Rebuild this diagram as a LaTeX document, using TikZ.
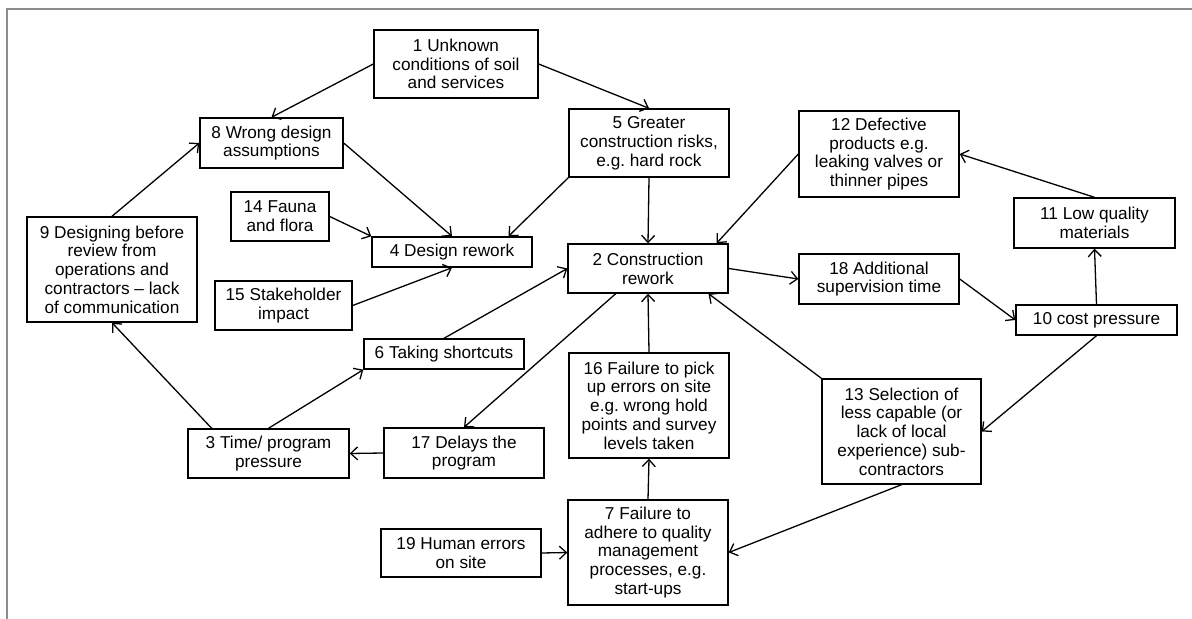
\documentclass[tikz,border=0pt]{standalone}
\usepackage{fontspec}
\newfontfamily\boxfont{Liberation Sans}
\usetikzlibrary{calc}
\usetikzlibrary{arrows.meta}
\usetikzlibrary{positioning}
\tikzset{box/.style={rectangle,draw=black,line width=0.7pt,inner sep=2pt,align=center,
    font=\boxfont\fontsize{8.6}{9.4}\selectfont\frenchspacing}}
\tikzset{link/.style={-{Straight Barb[length=3.5pt,width=6.5pt]},line width=0.65pt}}
\tikzset{frame/.style={draw=black!45,line width=0.9pt}}

\begin{document}
\begin{tikzpicture}[x=0.5pt,y=-0.5pt]
\useasboundingbox (0,0) rectangle (1192,619);
\draw[frame] (7,619) -- (7,9) -- (1192,9);

 \node[box,minimum width=82pt,minimum height=34pt] (F1) at (456,64) {1 Unknown\\conditions of soil\\and services};
 \node[box,minimum width=80pt,minimum height=24.5pt] (F2) at (648,268.5) {2 Construction\\rework};
 \node[box,minimum width=80.5pt,minimum height=24.5pt] (F3) at (268.5,453.5) {3 Time/ program\\pressure};
 \node[box,minimum width=80pt,minimum height=15pt] (F4) at (452,252) {4 Design rework};
 \node[box,minimum width=80pt,minimum height=34pt] (F5) at (649,143) {5 Greater\\construction risks,\\e.g. hard rock};
 \node[box,minimum width=80pt,minimum height=15pt] (F6) at (444,354) {6 Taking shortcuts};
 \node[box,minimum width=80pt,minimum height=52.5pt] (F7) at (648,552.5) {7 Failure to\\adhere to quality\\management\\processes, e.g.\\start-ups};
 \node[box,minimum width=71.5pt,minimum height=25pt] (F8) at (271.5,143) {8 Wrong design\\assumptions};
 \node[box,minimum width=85pt,minimum height=52.5pt] (F9) at (112,269.5) {9 Designing before\\review from\\operations and\\contractors – lack\\of communication};
 \node[box,minimum width=80.5pt,minimum height=15pt] (F10) at (1096.5,320) {10 cost pressure};
 \node[box,minimum width=80.5pt,minimum height=25pt] (F11) at (1094.5,223) {11 Low quality\\materials};
 \node[box,minimum width=80pt,minimum height=43pt] (F12) at (879,154) {12 Defective\\products e.g.\\leaking valves or\\thinner pipes};
 \node[box,minimum width=79.5pt,minimum height=52.5pt] (F13) at (901.5,431.5) {13 Selection of\\less capable (or\\lack of local\\experience) sub-\\contractors};
 \node[box,minimum width=49pt,minimum height=24.5pt] (F14) at (280,216.5) {14 Fauna\\and flora};
 \node[box,minimum width=68.5pt,minimum height=24.5pt] (F15) at (283.5,305.5) {15 Stakeholder\\impact};
 \node[box,minimum width=80pt,minimum height=52.5pt] (F16) at (649,405.5) {16 Failure to pick\\up errors on site\\e.g. wrong hold\\points and survey\\levels taken};
 \node[box,minimum width=80pt,minimum height=25pt] (F17) at (464,453) {17 Delays the\\program};
 \node[box,minimum width=80pt,minimum height=25pt] (F18) at (879,279) {18 Additional\\supervision time};
 \node[box,minimum width=80pt,minimum height=24pt] (F19) at (461,553) {19 Human errors\\on site};

\foreach \s/\t in {F1.west/F8.north, F1.east/F5.north, F8.east/F4.north,
                   F14.east/F4.north west, F15.east/F4.south, F5.south/F2.north,
                   F11.north/F12.east, F10.north/F11.south, F2.east/F18.west,
                   F18.east/F10.west, F10.south/F13.east, F13.south/F7.east,
                   F7.north/F16.south, F16.north/F2.south, F19.east/F7.west,
                   F17.west/F3.east, F3.north/F6.south west, F6.north/F2.west,
                   F9.north/F8.west}{
             \draw[link] (\s) -- (\t);
             }

 \draw[link] (F5.south west) -- ($(F4.north)!0.7!(F4.north east)$);
 \draw[link] (F12.west) -- ($(F2.north)!0.85!(F2.north east)$);
 \draw[link] (F13.north west) -- ($(F2.south)!0.75!(F2.south east)$);
 \draw[link] ($(F2.south)!0.4!(F2.south west)$) -- (F17.north);
 \draw[link] ($(F3.north)!0.7!(F3.north west)$) -- (F9.south);

\end{tikzpicture}
\end{document}
